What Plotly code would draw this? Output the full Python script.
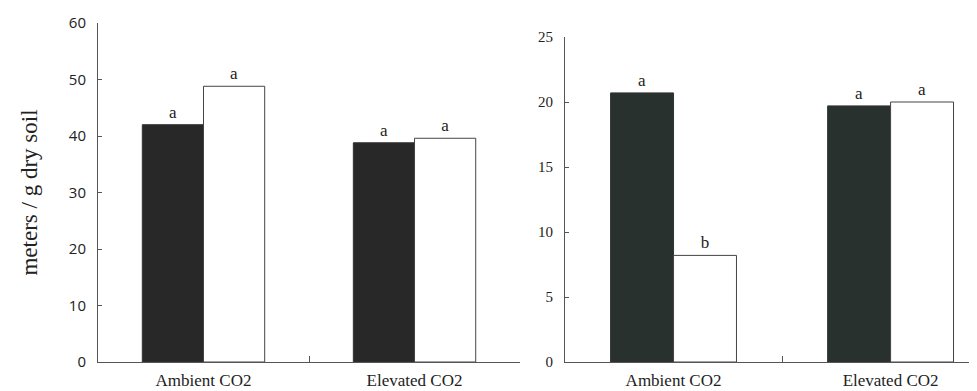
import plotly.graph_objects as go

categories = ["Ambient CO2", "Elevated CO2"]

left_dark = [42.0, 38.8]
left_light = [48.8, 39.6]
left_dark_letters = ["a", "a"]
left_light_letters = ["a", "a"]

right_dark = [20.7, 19.7]
right_light = [8.2, 20.0]
right_dark_letters = ["a", "a"]
right_light_letters = ["b", "a"]

left_yticks = [0, 10, 20, 30, 40, 50, 60]
right_yticks = [0, 5, 10, 15, 20, 25]

SERIF = "Liberation Serif, Times New Roman, serif"
SANS = "Open Sans, sans-serif"
AX = "#555555"
DARK_L = "#282828"
DARK_R = "#28312d"
TXT = "#222222"

fig = go.Figure()

def add_pair(dark, light, dl, ll, xa, ya, dark_col):
    fig.add_trace(go.Bar(x=categories, y=dark, text=dl, textposition="outside",
                         marker=dict(color=dark_col, line=dict(color="#333333", width=1)),
                         textfont=dict(family=SERIF, size=17, color=TXT),
                         cliponaxis=False, xaxis=xa, yaxis=ya, showlegend=False,
                         hoverinfo="skip"))
    fig.add_trace(go.Bar(x=categories, y=light, text=ll, textposition="outside",
                         marker=dict(color="white", line=dict(color="#444444", width=1)),
                         textfont=dict(family=SERIF, size=17, color=TXT),
                         cliponaxis=False, xaxis=xa, yaxis=ya, showlegend=False,
                         hoverinfo="skip"))

add_pair(left_dark, left_light, left_dark_letters, left_light_letters, "x", "y", DARK_L)
add_pair(right_dark, right_light, right_dark_letters, right_light_letters, "x2", "y2", DARK_R)

xcommon = dict(showline=True, linecolor=AX, linewidth=1, showgrid=False, zeroline=False,
               ticks="inside", tickson="boundaries", ticklen=6, tickcolor=AX,
               tickfont=dict(family=SERIF, size=17, color=TXT),
               ticklabelstandoff=3)
ycommon = dict(showline=True, linecolor=AX, linewidth=1, showgrid=False, zeroline=False,
               ticks="inside", ticklen=4, tickcolor=AX,
               ticklabelstandoff=8)

fig.update_layout(
    width=977, height=391,
    margin=dict(l=90, r=0, t=15, b=37),
    paper_bgcolor="white", plot_bgcolor="white",
    barmode="group", bargap=0.42, bargroupgap=0,
    xaxis=dict(domain=[0, 0.4758], range=[-0.5, 1.5], anchor="y", **xcommon),
    yaxis=dict(domain=[0, 1], range=[0, 60], tickvals=left_yticks, anchor="x",
               tickfont=dict(family=SANS, size=15, color=TXT),
               title=dict(text="meters / g dry soil",
                          font=dict(family=SERIF, size=23, color=TXT), standoff=24),
               **ycommon),
    xaxis2=dict(domain=[0.5265, 1], range=[-0.5, 1.435], anchor="y2", **xcommon),
    yaxis2=dict(domain=[0, 0.9587], range=[0, 25], tickvals=right_yticks, anchor="x2",
                tickfont=dict(family=SERIF, size=15, color=TXT),
                **ycommon),
)

fig.write_html("out.html")
